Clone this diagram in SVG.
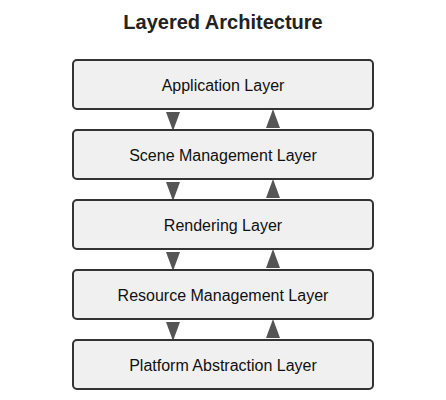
<svg xmlns="http://www.w3.org/2000/svg" width="446" height="400" viewBox="0 0 446 400">
<style>
.box{fill:#f0f0f0;stroke:#333;stroke-width:2}
.lbl{font-family:"Liberation Sans",Arial,sans-serif;font-size:16px;fill:#111;text-anchor:middle;dominant-baseline:central}
.title{font-family:"Liberation Sans",Arial,sans-serif;font-size:20px;font-weight:bold;fill:#222;text-anchor:middle}
.arr{fill:#555}
</style>
<rect width="446" height="400" fill="#fff"/>
<text class="title" x="223" y="29">Layered Architecture</text>
<g id="connectors">
<polygon class="arr" points="166,112 180,112 173,131"/>
<polygon class="arr" points="266,128 280,128 273,109"/>
<polygon class="arr" points="166,182 180,182 173,201"/>
<polygon class="arr" points="266,198 280,198 273,179"/>
<polygon class="arr" points="166,252 180,252 173,271"/>
<polygon class="arr" points="266,268 280,268 273,249"/>
<polygon class="arr" points="166,322 180,322 173,341"/>
<polygon class="arr" points="266,338 280,338 273,319"/>
</g>
<g id="app"><rect class="box" x="73" y="60" width="300" height="49" rx="4"/><text class="lbl" x="223" y="85">Application Layer</text></g>
<g id="scene"><rect class="box" x="73" y="130" width="300" height="49" rx="4"/><text class="lbl" x="223" y="155">Scene Management Layer</text></g>
<g id="render"><rect class="box" x="73" y="200" width="300" height="49" rx="4"/><text class="lbl" x="223" y="225">Rendering Layer</text></g>
<g id="resource"><rect class="box" x="73" y="270" width="300" height="49" rx="4"/><text class="lbl" x="223" y="295">Resource Management Layer</text></g>
<g id="platform"><rect class="box" x="73" y="340" width="300" height="49" rx="4"/><text class="lbl" x="223" y="365">Platform Abstraction Layer</text></g>
</svg>
